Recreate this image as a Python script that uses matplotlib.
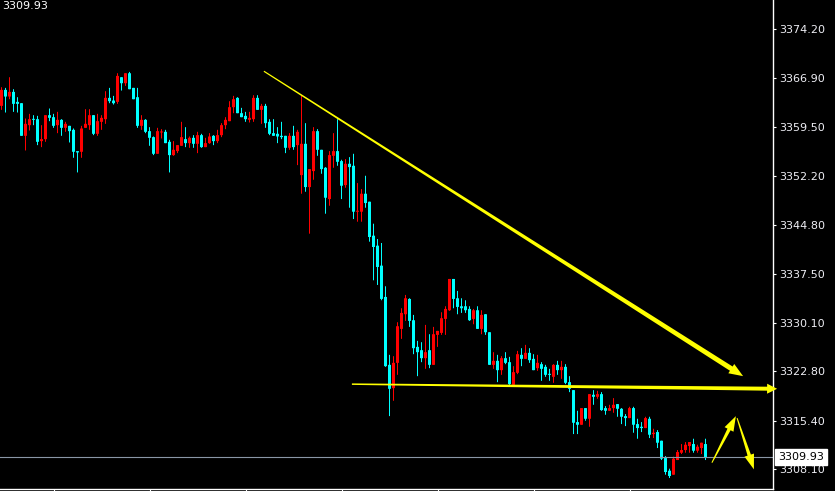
import matplotlib
matplotlib.use('Agg')
import matplotlib.pyplot as plt
from matplotlib.patches import Polygon
from matplotlib.transforms import IdentityTransform
import numpy as np

# 5-минутные свечи, значения
opens = [3362.7, 3365.1, 3364.1, 3364.8, 3363.3, 3363.1, 3358.2, 3359.8, 3360.7, 3360.7,
         3357.4, 3357.7, 3361.3, 3361.0, 3359.8, 3360.6, 3359.4, 3359.7, 3359.1, 3355.9,
         3355.8, 3359.4, 3359.8, 3361.3, 3358.5, 3360.3, 3360.7, 3363.9, 3363.5, 3363.3,
         3367.0, 3366.1, 3367.6, 3365.4, 3364.0, 3359.7, 3360.6, 3358.9, 3358.0, 3355.5,
         3358.7, 3358.8, 3357.3, 3355.3, 3355.9, 3356.7, 3357.7, 3357.1, 3357.9, 3357.0,
         3358.3, 3356.5, 3357.1, 3358.2, 3357.4, 3358.3, 3359.8, 3360.4, 3362.5, 3363.9,
         3361.6, 3361.2, 3360.6, 3360.7, 3363.9, 3362.1, 3362.7, 3360.3, 3358.6, 3358.5,
         3358.2, 3358.2, 3356.4, 3358.2, 3356.8, 3352.3, 3357.0, 3350.5, 3352.9, 3358.9,
         3356.1, 3353.4, 3348.7, 3355.2, 3355.9, 3354.4, 3350.8, 3354.0, 3353.7, 3346.8,
         3346.8, 3349.5, 3348.3, 3343.2, 3341.7, 3338.7, 3334.0, 3323.8, 3320.3, 3324.1,
         3329.2, 3331.4, 3333.7, 3330.5, 3326.5, 3326.0, 3324.8, 3326.0, 3323.8, 3328.3,
         3328.6, 3330.7, 3332.0, 3336.7, 3333.8, 3332.6, 3332.6, 3332.2, 3330.7, 3332.0,
         3329.2, 3331.4, 3328.7, 3323.8, 3324.4, 3323.0, 3324.8, 3324.2, 3320.8, 3322.6,
         3325.3, 3324.7, 3325.6, 3324.7, 3323.3, 3323.9, 3323.5, 3322.4, 3322.0, 3323.8,
         3323.0, 3323.5, 3321.2, 3320.0, 3315.2, 3314.8, 3317.3, 3315.7, 3319.3, 3319.0,
         3319.4, 3317.3, 3316.9, 3317.3, 3317.9, 3317.2, 3316.1, 3315.8, 3317.3, 3314.9,
         3314.5, 3314.3, 3315.7, 3313.4, 3313.7, 3312.4, 3309.8, 3307.9, 3307.3, 3309.5,
         3310.6, 3311.0, 3311.6, 3311.9, 3310.9, 3311.3, 3311.9]

highs = [3365.5, 3365.4, 3367.0, 3365.2, 3364.0, 3363.1, 3360.8, 3361.5, 3361.3, 3361.2,
         3359.8, 3361.3, 3362.3, 3361.5, 3361.8, 3360.7, 3360.3, 3359.7, 3359.3, 3355.9,
         3359.7, 3362.2, 3362.2, 3361.3, 3361.5, 3361.3, 3364.9, 3365.4, 3364.2, 3367.6,
         3367.0, 3367.6, 3367.8, 3365.4, 3365.4, 3361.3, 3360.7, 3359.5, 3358.1, 3359.4,
         3359.2, 3359.1, 3357.6, 3357.4, 3356.8, 3360.3, 3359.5, 3358.1, 3358.3, 3358.8,
         3358.5, 3357.9, 3358.6, 3358.3, 3359.1, 3360.1, 3361.0, 3363.4, 3364.2, 3364.0,
         3362.4, 3361.8, 3361.8, 3364.3, 3364.3, 3363.0, 3363.0, 3360.7, 3360.7, 3359.5,
         3360.3, 3358.2, 3358.6, 3359.7, 3359.1, 3364.3, 3360.1, 3353.2, 3359.5, 3359.2,
         3356.1, 3353.5, 3355.9, 3358.6, 3360.7, 3354.6, 3354.7, 3355.0, 3355.5, 3351.1,
         3350.2, 3352.2, 3348.3, 3345.0, 3342.7, 3342.1, 3335.6, 3325.3, 3325.1, 3330.2,
         3332.3, 3334.3, 3333.8, 3331.3, 3327.4, 3327.2, 3329.8, 3328.4, 3329.5, 3328.9,
         3331.7, 3332.6, 3336.7, 3336.7, 3334.9, 3333.8, 3333.5, 3332.6, 3332.2, 3332.6,
         3332.0, 3331.4, 3328.7, 3325.7, 3325.3, 3325.1, 3325.7, 3325.0, 3323.6, 3325.9,
         3326.3, 3326.8, 3326.3, 3325.4, 3325.3, 3324.2, 3323.8, 3323.2, 3323.9, 3324.4,
         3324.4, 3323.9, 3322.1, 3320.0, 3316.9, 3317.3, 3317.3, 3319.4, 3320.0, 3319.9,
         3319.7, 3317.6, 3317.8, 3318.8, 3317.9, 3317.3, 3316.4, 3317.5, 3317.5, 3315.7,
         3315.2, 3316.0, 3316.0, 3314.2, 3314.0, 3312.4, 3310.1, 3308.2, 3310.0, 3311.0,
         3311.9, 3312.2, 3312.2, 3312.7, 3311.8, 3312.1, 3312.7]

lows = [3362.1, 3361.7, 3363.7, 3361.8, 3361.7, 3358.2, 3356.0, 3359.0, 3359.8, 3356.8,
        3356.5, 3357.3, 3360.4, 3359.4, 3358.6, 3358.2, 3358.8, 3357.2, 3354.9, 3352.7,
        3354.9, 3359.4, 3359.1, 3358.3, 3358.2, 3359.1, 3360.0, 3363.1, 3362.9, 3363.0,
        3365.0, 3365.7, 3365.2, 3363.7, 3359.4, 3359.1, 3358.6, 3356.7, 3355.3, 3355.5,
        3357.8, 3357.1, 3352.7, 3355.2, 3355.6, 3356.7, 3356.5, 3356.4, 3356.4, 3355.6,
        3356.4, 3356.5, 3357.0, 3356.8, 3357.1, 3358.0, 3359.2, 3360.4, 3361.6, 3361.6,
        3361.0, 3360.3, 3360.2, 3360.3, 3362.1, 3360.0, 3359.4, 3358.3, 3358.2, 3357.1,
        3357.7, 3355.6, 3356.1, 3356.1, 3353.8, 3349.5, 3349.8, 3343.5, 3351.6, 3355.2,
        3352.5, 3346.5, 3347.7, 3353.4, 3353.7, 3348.7, 3350.4, 3347.4, 3345.7, 3345.3,
        3345.3, 3347.4, 3342.3, 3336.5, 3335.8, 3333.5, 3323.5, 3316.1, 3318.4, 3322.3,
        3327.7, 3330.4, 3329.5, 3325.4, 3322.1, 3324.2, 3323.2, 3323.3, 3323.8, 3326.5,
        3328.3, 3328.3, 3331.9, 3332.3, 3331.4, 3331.6, 3331.6, 3330.4, 3329.9, 3329.2,
        3328.4, 3328.3, 3323.8, 3323.2, 3321.2, 3322.3, 3323.9, 3320.8, 3320.8, 3322.4,
        3323.6, 3324.7, 3324.1, 3323.0, 3322.9, 3321.4, 3322.0, 3321.4, 3321.1, 3322.3,
        3321.7, 3320.9, 3319.7, 3313.4, 3313.4, 3314.8, 3315.4, 3314.5, 3317.8, 3318.7,
        3316.9, 3316.3, 3316.9, 3316.6, 3316.0, 3314.9, 3314.6, 3315.8, 3313.6, 3312.7,
        3313.7, 3314.3, 3312.8, 3312.8, 3311.3, 3309.5, 3307.3, 3306.8, 3307.3, 3309.5,
        3310.4, 3310.6, 3310.6, 3310.6, 3310.6, 3310.4, 3309.5]

closes = [3365.1, 3364.1, 3364.8, 3363.0, 3363.0, 3358.2, 3360.0, 3360.7, 3360.6, 3357.3,
          3357.7, 3361.3, 3360.9, 3359.7, 3360.6, 3359.4, 3360.0, 3358.9, 3355.8, 3355.7,
          3359.3, 3360.0, 3361.3, 3358.5, 3360.4, 3360.9, 3363.9, 3363.4, 3363.1, 3367.2,
          3366.1, 3367.6, 3365.2, 3363.7, 3359.7, 3360.6, 3358.8, 3357.9, 3355.5, 3358.9,
          3358.8, 3357.1, 3355.3, 3356.1, 3356.8, 3358.0, 3357.1, 3357.9, 3357.0, 3358.3,
          3356.5, 3357.1, 3358.1, 3357.4, 3358.3, 3359.8, 3360.6, 3362.5, 3363.7, 3361.6,
          3361.0, 3360.7, 3360.9, 3363.9, 3362.1, 3362.7, 3360.1, 3358.5, 3358.2, 3358.1,
          3358.0, 3356.4, 3358.2, 3356.5, 3358.8, 3357.0, 3350.5, 3353.2, 3358.9, 3356.1,
          3353.2, 3348.9, 3355.3, 3355.9, 3354.3, 3350.7, 3354.0, 3353.5, 3346.8, 3346.9,
          3349.5, 3348.1, 3343.0, 3341.5, 3338.5, 3333.7, 3323.6, 3320.2, 3324.1, 3329.6,
          3331.6, 3333.8, 3330.4, 3326.3, 3325.7, 3324.8, 3325.7, 3323.8, 3328.4, 3328.9,
          3330.8, 3332.2, 3336.7, 3333.7, 3332.5, 3332.3, 3332.0, 3330.5, 3332.0, 3329.2,
          3331.3, 3328.7, 3323.8, 3324.4, 3323.0, 3324.8, 3324.1, 3320.9, 3322.7, 3325.4,
          3324.7, 3325.6, 3324.5, 3323.0, 3324.1, 3323.2, 3322.3, 3322.3, 3323.8, 3323.0,
          3323.5, 3321.1, 3320.2, 3315.1, 3314.8, 3317.3, 3315.7, 3319.4, 3319.0, 3319.4,
          3317.0, 3316.9, 3317.3, 3317.8, 3317.2, 3316.0, 3315.8, 3317.3, 3314.8, 3314.3,
          3314.3, 3315.8, 3313.3, 3313.6, 3312.1, 3309.7, 3307.7, 3307.1, 3309.7, 3310.7,
          3311.0, 3311.8, 3312.2, 3310.9, 3311.5, 3312.1, 3309.93]

last_price = 3309.93
price_ticks = [3374.20, 3366.90, 3359.50, 3352.20, 3344.80, 3337.50, 3330.10, 3322.80, 3315.40, 3308.10]
time_ticks = [13, 37, 61, 85, 109, 133, 157]

# нарисованные от руки стрелки: (номер свечи, цена)
trend_line = [(65.6, 3367.9), (185.4, 3322.1)]
support_line = [(87.6, 3320.9), (193.9, 3320.2)]
arrow_up = [(177.6, 3309.1), (183.6, 3316.1)]
arrow_down = [(183.9, 3315.8), (188.1, 3308.1)]

W, H = 835, 491
fig = plt.figure(figsize=(W / 100, H / 100), dpi=100, facecolor='black')
ax = fig.add_axes([0, 2 / H, 773 / W, 489 / H], facecolor='black')

o = np.array(opens)
h = np.array(highs)
l = np.array(lows)
c = np.array(closes)
idx = np.arange(len(o))
colors = np.where(c > o, '#ff0000', '#00ffff')

# тени 1 px, тела 3 px (одна свеча = 4 px)
ax.vlines(idx, l, h, colors=colors, linewidth=0.72, snap=False)
bot = np.minimum(o, c)
body_h = np.maximum(np.abs(c - o), 0.15)
ax.bar(idx, body_h, bottom=bot, width=0.75, color=colors, linewidth=0, snap=False)

ax.set_xlim(-0.375, -0.375 + 773 / 4)
ax.set_ylim(3305.15, 3378.6)

# текущая цена
ax.axhline(last_price, color='#8a96a6', linewidth=0.8)
ax.annotate(f'{last_price:.2f}', xy=(1, last_price), xycoords=('axes fraction', 'data'),
            xytext=(5, 0), textcoords='offset pixels', ha='left', va='center',
            fontsize=8, color='black', annotation_clip=False,
            bbox=dict(boxstyle='square,pad=0.25', fc='white', ec='white'))

for side in ['top', 'left']:
    ax.spines[side].set_visible(False)
for side in ['right', 'bottom']:
    ax.spines[side].set_color('white')
    ax.spines[side].set_linewidth(1.0)

ax.yaxis.tick_right()
ax.set_yticks(price_ticks)
ax.set_yticklabels([f'{v:.2f}' for v in price_ticks])
ax.tick_params(axis='y', direction='out', length=2.5, width=0.8, color='white',
               labelcolor='#eeeef4', labelsize=8, pad=2)
ax.set_xticks(time_ticks)
ax.set_xticklabels([])
ax.tick_params(axis='x', direction='out', length=2, width=0.8, color='white')

fig.text(2 / W, 1 - 1 / H, f'{last_price:.2f}', ha='left', va='top', color='white', fontsize=8)


def taper_arrow(pts, w0, w1, head_len, head_w):
    """Стрелка, которая утолщается к концу (в пикселях)"""
    a = ax.transData.transform(pts[0])
    b = ax.transData.transform(pts[1])
    d = b - a
    u = d / np.hypot(*d)
    n = np.array([-u[1], u[0]])
    base = b - u * head_len
    poly = [a + n * w0 / 2, base + n * w1 / 2, base + n * head_w / 2, b,
            base - n * head_w / 2, base - n * w1 / 2, a - n * w0 / 2]
    fig.add_artist(Polygon(poly, closed=True, transform=IdentityTransform(),
                           facecolor='#ffff00', edgecolor='none'))


taper_arrow(trend_line, 1.2, 5, 14, 11)
taper_arrow(support_line, 1.5, 4, 10, 10)
taper_arrow(arrow_up, 1, 3.5, 15, 10)
taper_arrow(arrow_down, 1, 3.5, 15, 10)

fig.savefig('out.png', dpi=100, facecolor='black')
